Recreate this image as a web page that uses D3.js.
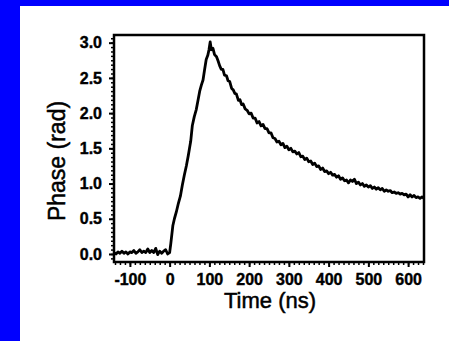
<!DOCTYPE html>
<html>
<head>
<meta charset="utf-8">
<script src="https://cdn.jsdelivr.net/npm/d3@7"></script>
<style>
  body { margin: 0; background: #fff; }
  svg { display: block; }
</style>
</head>
<body>
<div id="chart"></div>
<script>
const times = [
  -140, -135, -130, -125, -120, -115, -110, -105, -100, -95, -90, -85, -80, -75, -70,
  -65, -60, -55, -50, -45, -40, -35, -30, -25, -20, -15, -10, -5, 0,
  3, 8, 12, 17, 22, 27, 32, 37, 42, 47, 50, 53, 57, 62, 67, 72, 76, 80, 84, 88,
  92, 96, 99, 102, 105, 109, 113, 118, 122, 126, 130, 134, 138, 143, 147, 151,
  156, 160, 164, 168, 173, 177, 181, 185, 190, 195, 200, 205, 210, 215, 220,
  225, 230, 235, 240, 245, 250, 255, 260, 265, 270, 275, 280, 285, 290, 295,
  300, 305, 310, 315, 320, 325, 330, 335, 340, 345, 350, 355, 360, 365, 370,
  375, 380, 385, 390, 395, 400, 405, 410, 415, 420, 425, 430, 435, 440, 445,
  450, 455, 460, 465, 470, 475, 480, 485, 490, 495, 500, 505, 510, 515, 520,
  525, 530, 535, 540, 545, 550, 555, 560, 565, 570, 575, 580, 585, 590, 595,
  600, 605, 610, 615, 620, 625, 630, 635, 640
];
const phase = [
  0.02, 0.00, 0.03, 0.01, 0.04, 0.01, 0.03, 0.00, 0.03, 0.02, 0.05, 0.01, 0.03, 0.06, 0.02,
  0.04, 0.02, 0.07, 0.02, 0.05, 0.02, 0.08, -0.01, 0.04, 0.01, 0.04, 0.06, 0.00, 0.02,
  0.15, 0.40, 0.50, 0.60, 0.72, 0.82, 0.98, 1.12, 1.25, 1.40, 1.50, 1.60, 1.82, 1.95, 2.05, 2.20, 2.32, 2.40, 2.47, 2.62,
  2.76, 2.82, 2.90, 3.01, 2.90, 2.92, 2.83, 2.80, 2.74, 2.67, 2.62, 2.62, 2.54, 2.53, 2.46, 2.45,
  2.35, 2.33, 2.28, 2.27, 2.18, 2.19, 2.12, 2.13, 2.06, 2.04, 1.99, 2.00, 1.93, 1.93, 1.86,
  1.88, 1.82, 1.84, 1.78, 1.78, 1.72, 1.72, 1.65, 1.64, 1.59, 1.60, 1.55, 1.57, 1.51, 1.53,
  1.48, 1.50, 1.45, 1.46, 1.42, 1.44, 1.38, 1.39, 1.34, 1.36, 1.31, 1.32, 1.27, 1.29, 1.24,
  1.25, 1.20, 1.22, 1.17, 1.18, 1.14, 1.16, 1.12, 1.13, 1.09, 1.11, 1.06, 1.08, 1.04, 1.05,
  1.01, 1.05, 1.03, 1.06, 1.00, 1.02, 0.98, 1.00, 0.96, 0.98, 0.95, 0.97, 0.93, 0.95, 0.92,
  0.94, 0.91, 0.93, 0.89, 0.91, 0.89, 0.90, 0.87, 0.88, 0.86, 0.87, 0.85, 0.86, 0.84, 0.85,
  0.81, 0.84, 0.81, 0.83, 0.80, 0.81, 0.79, 0.81, 0.79
];
const xTicks = [-100, 0, 100, 200, 300, 400, 500, 600];
const yTicks = [0.0, 0.5, 1.0, 1.5, 2.0, 2.5, 3.0];

const width = 449, height = 341;
const plotLeft = 114, plotRight = 424, plotTop = 35, plotBottom = 262;

const svg = d3.select("#chart").append("svg")
  .attr("width", width)
  .attr("height", height)
  .style("font-family", "'Liberation Sans', Arial, sans-serif");

svg.append("rect").attr("width", width).attr("height", height).attr("fill", "#fff");
// blue border strips
svg.append("rect").attr("x", 0).attr("y", 0).attr("width", 20).attr("height", height).attr("fill", "#0000ff");
svg.append("rect").attr("x", 0).attr("y", 0).attr("width", width).attr("height", 6).attr("fill", "#0000ff");

const x = d3.scaleLinear().domain([-140, 640]).range([plotLeft, plotRight]);
const y = d3.scaleLinear().domain([-0.114, 3.109]).range([plotBottom, plotTop]);

// minor ticks (8 per major step)
const xMinor = d3.range(-137.5, 640, 12.5).filter(v => v >= -140);
const yMinor = d3.range(-0.0625, 3.11, 0.0625).filter(v => v >= -0.114);

svg.append("g")
  .attr("transform", `translate(0,${plotBottom})`)
  .call(d3.axisBottom(x).tickValues(xMinor).tickSize(3).tickFormat(""))
  .call(g => g.select(".domain").remove())
  .call(g => g.selectAll("line").attr("stroke-width", 1.5));

svg.append("g")
  .attr("transform", `translate(${plotLeft},0)`)
  .call(d3.axisLeft(y).tickValues(yMinor).tickSize(3).tickFormat(""))
  .call(g => g.select(".domain").remove())
  .call(g => g.selectAll("line").attr("stroke-width", 1.5));

const xAxis = svg.append("g")
  .attr("transform", `translate(0,${plotBottom})`)
  .call(d3.axisBottom(x).tickValues(xTicks).tickSize(5).tickPadding(7).tickFormat(d => String(d)));
xAxis.select(".domain").remove();
xAxis.selectAll("line").attr("stroke-width", 2);
xAxis.selectAll("text").attr("font-size", 16).attr("font-weight", "bold").attr("fill", "#000")
  .attr("stroke", "#000").attr("stroke-width", 0.4);

const yAxis = svg.append("g")
  .attr("transform", `translate(${plotLeft},0)`)
  .call(d3.axisLeft(y).tickValues(yTicks).tickSize(5).tickPadding(7).tickFormat(d => d.toFixed(1)));
yAxis.select(".domain").remove();
yAxis.selectAll("line").attr("stroke-width", 2);
yAxis.selectAll("text").attr("font-size", 16).attr("font-weight", "bold").attr("fill", "#000")
  .attr("stroke", "#000").attr("stroke-width", 0.4);

// frame
svg.append("rect")
  .attr("x", plotLeft).attr("y", plotTop)
  .attr("width", plotRight - plotLeft).attr("height", plotBottom - plotTop)
  .attr("fill", "none").attr("stroke", "#000").attr("stroke-width", 2.5);

// trace
const line = d3.line().x((d, i) => x(times[i])).y(d => y(d));
svg.append("path")
  .datum(phase)
  .attr("d", line)
  .attr("fill", "none")
  .attr("stroke", "#000")
  .attr("stroke-width", 2.8)
  .attr("stroke-linejoin", "round");

svg.append("text")
  .attr("x", 270).attr("y", 308)
  .attr("text-anchor", "middle")
  .attr("font-size", 22)
  .attr("stroke", "#000").attr("stroke-width", 0.5)
  .text("Time (ns)");

svg.append("text")
  .attr("transform", "translate(65,161) rotate(-90)")
  .attr("text-anchor", "middle")
  .attr("font-size", 23)
  .attr("stroke", "#000").attr("stroke-width", 0.5)
  .text("Phase (rad)");
</script>
</body>
</html>
